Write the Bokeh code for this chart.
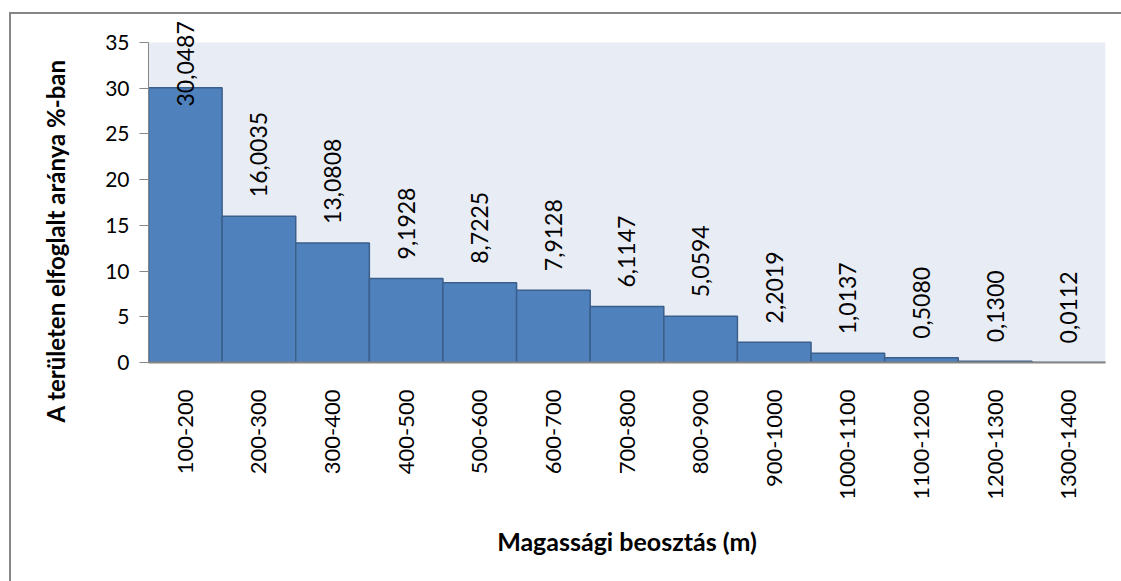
import numpy as np
from bokeh.plotting import figure
from bokeh.models import (ColumnDataSource, FactorRange, Range1d, FixedTicker, LabelSet,
                          BoxAnnotation, Title)
from bokeh.core.properties import value
from bokeh.embed import file_html
from bokeh.resources import INLINE

categories = ["100-200", "200-300", "300-400", "400-500", "500-600", "600-700",
              "700-800", "800-900", "900-1000", "1000-1100", "1100-1200",
              "1200-1300", "1300-1400"]
values = [30.0487, 16.0035, 13.0808, 9.1928, 8.7225, 7.9128, 6.1147,
          5.0594, 2.2019, 1.0137, 0.5080, 0.1300, 0.0112]
y_ticks = [0, 5, 10, 15, 20, 25, 30, 35]
y_max = 35
x_title = "Magassági beosztás (m)"
y_title = "A területen elfoglalt aránya %-ban"

FONT = "Lato"
FRAME_W = 957
AREA_H = 320                      # height of the 0..35 plot area in px
HEADROOM = 28                     # chart-area space above the plot area
ppu = AREA_H / y_max              # pixels per data unit
y_top = y_max + HEADROOM / ppu
label_len_px = 84                 # approx. length of a rotated value label
pad_px = 19
top_gap_px = 8                    # labels stay this far below the frame top

labels = [f"{v:.4f}".replace(".", ",") for v in values]
vals = np.array(values)
label_y = np.minimum(vals + pad_px / ppu,
                     y_top - (top_gap_px + label_len_px) / ppu)

src = ColumnDataSource(dict(cat=categories, val=values, lab=labels, ly=label_y))

p = figure(x_range=FactorRange(factors=categories, range_padding=0),
           y_range=Range1d(0, y_top),
           frame_width=FRAME_W, frame_height=AREA_H + HEADROOM,
           min_border_left=148, min_border_right=16,
           min_border_top=14, min_border_bottom=219,
           output_backend="svg", toolbar_location=None,
           background_fill_color="white", border_fill_color="white",
           border_fill_alpha=0,
           styles={"background": "linear-gradient(#868686,#868686) 9px 12px / 2px 100% no-repeat, "
                                 "linear-gradient(#868686,#868686) 9px 12px / 100% 2px no-repeat"})
p.outline_line_color = None
p.xgrid.visible = False
p.ygrid.visible = False

p.add_layout(BoxAnnotation(bottom=0, top=y_max, fill_color="#E8ECF4", fill_alpha=1,
                           line_color=None, level="underlay"))

p.vbar(x="cat", top="val", width=1.0, source=src,
       fill_color="#4F81BD", line_color="#3A5F8B", line_width=1.5)

lbl = LabelSet(x="cat", y="ly", text="lab", source=src, angle=np.pi / 2,
               text_align="left", text_baseline="middle",
               text_font=value(FONT), text_font_size="23px", text_color="black")
p.add_layout(lbl)

# y axis (ticks)
ya = p.yaxis[0]
ya.ticker = FixedTicker(ticks=y_ticks)
ya.bounds = (0, y_max)
ya.axis_line_color = "#868686"
ya.major_tick_line_color = "#868686"
ya.major_tick_out = 9
ya.major_tick_in = 0
ya.minor_tick_line_color = None
ya.major_label_text_font = FONT
ya.major_label_text_font_size = "21px"
ya.major_label_text_color = "black"
ya.major_label_standoff = 10

# y axis title as a side title, so that it can sit lower like the original
p.add_layout(Title(text=y_title, align="left", offset=-60, standoff=66,
                   text_font=FONT, text_font_style="bold", text_font_size="24px",
                   text_color="black"), "left")

# x axis
xa = p.xaxis[0]
xa.axis_line_color = "#868686"
xa.axis_line_width = 2
xa.major_tick_line_color = None
xa.minor_tick_line_color = None
xa.major_label_orientation = np.pi / 2
xa.major_label_text_font = FONT
xa.major_label_text_font_size = "22px"
xa.major_label_text_color = "black"
xa.major_label_standoff = 21
xa.axis_label = x_title
xa.axis_label_text_font = FONT
xa.axis_label_text_font_style = "bold"
xa.axis_label_text_font_size = "25px"
xa.axis_label_text_color = "black"
xa.axis_label_standoff = 23

open("out.html", "w").write(file_html(p, INLINE))
